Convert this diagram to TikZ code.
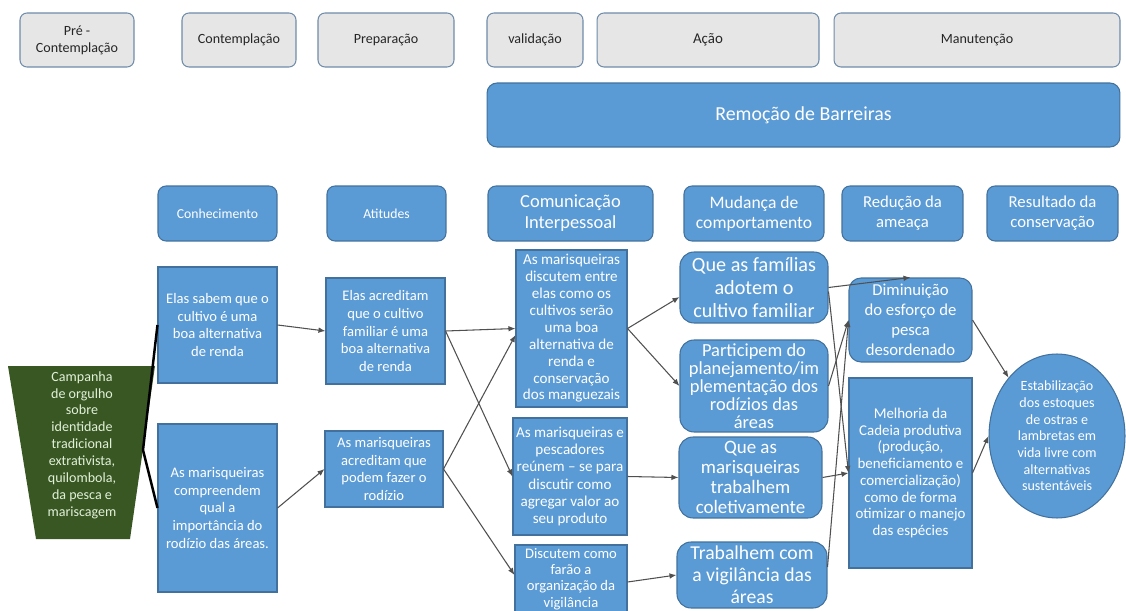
\documentclass[tikz,border=0pt]{standalone}
\usepackage{fontspec}
\setmainfont{Carlito}
\usetikzlibrary{arrows.meta,shapes.geometric}
\definecolor{boxblue}{HTML}{5B9BD5}
\definecolor{blueline}{HTML}{41719C}
\definecolor{stagegray}{HTML}{E7E6E6}
\definecolor{stageline}{HTML}{6F8CAA}
\definecolor{campgreen}{HTML}{385723}
\definecolor{camptext}{HTML}{E2F0D9}
\definecolor{linegray}{HTML}{505050}

\begin{document}
\begin{tikzpicture}[x=0.02cm, y=-0.02cm, >={Latex[length=4pt,width=3.2pt]},
	stagebox/.style={draw=stageline, fill=stagegray, line width=0.6pt, rounded corners=0.14cm, minimum height=1.08cm, align=center, inner sep=1pt, text=black!85, font=\fontsize{8}{9.6}\selectfont},
	barbox/.style={draw=blueline, fill=boxblue, line width=0.6pt, rounded corners=0.2cm, text=white, font=\fontsize{11.3}{13}\selectfont},
	headbox/.style={draw=blueline, fill=boxblue, line width=0.6pt, rounded corners=0.16cm, minimum height=1.1cm, align=center, inner sep=1pt, text=white, font=\fontsize{7.8}{9.4}\selectfont},
	factbox/.style={draw=blueline, fill=boxblue, line width=0.6pt, align=center, inner sep=1pt, text=white, font=\fontsize{8.3}{10.2}\selectfont},
	goalbox/.style={factbox, rounded corners=0.28cm},
	link/.style={->, draw=linegray, line width=0.6pt},
	campline/.style={draw=black, line width=1.4pt}]
	\path[use as bounding box, fill=white] (0,0) rectangle (1126,611);

	\node[stagebox, minimum width=2.28cm] (pre) at (77,40) {Pré -\\Contemplação};
	\node[stagebox, minimum width=2.28cm] (cont) at (239,40) {Contemplação};
	\node[stagebox, minimum width=2.72cm] (prep) at (386,40) {Preparação};
	\node[stagebox, minimum width=1.92cm] (valid) at (535,40) {validação};
	\node[stagebox, minimum width=4.44cm, font=\fontsize{8.5}{10}\selectfont] (acao) at (708,40) {Ação};
	\node[stagebox, minimum width=5.72cm] (manut) at (977,40) {Manutenção};
	\node[barbox, minimum width=12.66cm, minimum height=1.28cm] (barr) at (803.5,115) {Remoção de Barreiras};

	\node[headbox, minimum width=2.38cm] (conh) at (217.5,213.5) {Conhecimento};
	\node[headbox, minimum width=2.38cm] (atit) at (386.5,213.5) {Atitudes};
	\node[headbox, minimum width=3.30cm, font=\fontsize{10.5}{12}\selectfont] (comu) at (570.5,213.5) {Comunicação\\Interpessoal};
	\node[headbox, minimum width=2.80cm, font=\fontsize{10}{11.5}\selectfont] (mud) at (754,213.5) {Mudança de\\comportamento};
	\node[headbox, minimum width=2.42cm, font=\fontsize{9.5}{11.3}\selectfont] (redu) at (902.5,213.5) {Redução da\\ameaça};
	\node[headbox, minimum width=2.62cm, font=\fontsize{9.5}{11.3}\selectfont] (resu) at (1052.5,213.5) {Resultado da\\conservação};

	\fill[campgreen] (8,366) -- (155,366) -- (130,539) -- (36,539) -- cycle;
	\node[align=center, text=camptext, font=\fontsize{8}{9.6}\selectfont] (camp) at (82,445) {Campanha\\de orgulho\\sobre\\identidade\\tradicional\\extrativista,\\quilombola,\\da pesca  e\\mariscagem};
	\coordinate (campR) at (143,450);

	\node[factbox, minimum width=2.38cm, minimum height=2.32cm] (sabem) at (217.5,325) {Elas sabem que o\\cultivo é uma\\boa alternativa\\de renda};
	\node[factbox, minimum width=2.38cm, minimum height=3.36cm] (compr) at (217.5,508) {As marisqueiras\\compreendem\\qual a\\importância do\\rodízio das áreas.};
	\node[factbox, minimum width=2.38cm, minimum height=2.12cm] (acred) at (385.5,331) {Elas acreditam\\que o cultivo\\familiar é uma\\boa alternativa\\de renda};
	\node[factbox, minimum width=2.36cm, minimum height=1.52cm] (podem) at (384,469) {As marisqueiras\\acreditam que\\podem fazer o\\rodízio};

	\node[factbox, minimum width=2.22cm, minimum height=3.14cm, font=\fontsize{8.6}{9.6}\selectfont] (discu) at (571.5,328.5) {As marisqueiras\\discutem entre\\elas como os\\cultivos serão\\uma boa\\alternativa de\\renda e\\conservação\\dos manguezais};
	\node[factbox, minimum width=2.28cm, minimum height=2.34cm, font=\fontsize{8.6}{9.8}\selectfont] (reune) at (570,476.5) {As marisqueiras e\\pescadores\\reúnem – se para\\discutir como\\agregar valor ao\\seu produto};
	\node[factbox, minimum width=2.24cm, minimum height=1.36cm, inner sep=0.5pt, font=\fontsize{8.3}{9.2}\selectfont] (vigia) at (571,579) {Discutem como\\farão a\\organização da\\vigilância};

	\node[goalbox, minimum width=2.96cm, minimum height=1.42cm, font=\fontsize{11.5}{13}\selectfont] (fami) at (754,287.5) {Que as famílias\\adotem o\\cultivo familiar};
	\node[goalbox, minimum width=2.96cm, minimum height=1.84cm, inner sep=0.5pt, font=\fontsize{10.5}{10.2}\selectfont] (part) at (754,386) {Participem do\\planejamento/im\\plementação dos\\rodízios das\\áreas};
	\node[goalbox, minimum width=2.86cm, minimum height=1.62cm, inner sep=0.5pt, font=\fontsize{10.8}{11.4}\selectfont] (colet) at (750.5,477.5) {Que as\\marisqueiras\\trabalhem\\coletivamente};
	\node[goalbox, minimum width=3.0cm, minimum height=1.32cm, inner sep=0.5pt, font=\fontsize{11.2}{12.6}\selectfont] (trab) at (752,575) {Trabalhem com\\a vigilância das\\áreas};

	\node[goalbox, rounded corners=0.24cm, minimum width=2.46cm, minimum height=1.68cm, font=\fontsize{9.5}{11.3}\selectfont] (dimi) at (910.5,320) {Diminuição\\do esforço de\\pesca\\desordenado};
	\node[factbox, minimum width=2.46cm, minimum height=3.8cm, font=\fontsize{8.5}{9.5}\selectfont] (melh) at (910.5,473) {Melhoria da\\Cadeia produtiva\\(produção,\\beneficiamento e\\comercialização)\\como de forma\\otimizar o manejo\\das espécies};
	\node[ellipse, draw=blueline, fill=boxblue, line width=0.6pt, text=white, align=center, inner sep=0pt, minimum width=2.72cm, minimum height=3.28cm, font=\fontsize{8}{9.5}\selectfont] (estab) at (1057,436) {Estabilização\\dos estoques\\de ostras e\\lambretas em\\vida livre com\\alternativas\\sustentáveis};

	\draw[campline] (sabem.west) -- (campR) -- (compr.west);

	\draw[link] (sabem.east) -- (acred.west);
	\draw[link] (compr.east) -- (podem.west);
	\draw[link] (acred.east) -- (discu.west);
	\draw[link] (acred.east) -- (reune.west);
	\draw[link] (podem.east) -- ([yshift=-0.13cm]discu.west);
	\draw[link] (podem.east) -- ([yshift=0.08cm]vigia.west);

	\draw[link] (discu.east) -- ([yshift=-0.19cm]fami.west);
	\draw[link] (discu.east) -- (part.west);
	\draw[link] (reune.east) -- (colet.west);
	\draw[link] ([yshift=-0.06cm]vigia.east) -- (trab.west);

	\draw[link] (fami.east) -- (dimi.north);
	\draw[link] ([yshift=-0.08cm]fami.east) -- (melh.west);
	\draw[link] (part.east) -- (dimi.west);
	\draw[link] (colet.east) -- (melh.west);
	\draw[link] ([yshift=0.16cm]trab.east) -- (dimi.west);

	\draw[link] (dimi.east) -- (estab.north west);
	\draw[link] (melh.east) -- (estab.west);
\end{tikzpicture}
\end{document}
